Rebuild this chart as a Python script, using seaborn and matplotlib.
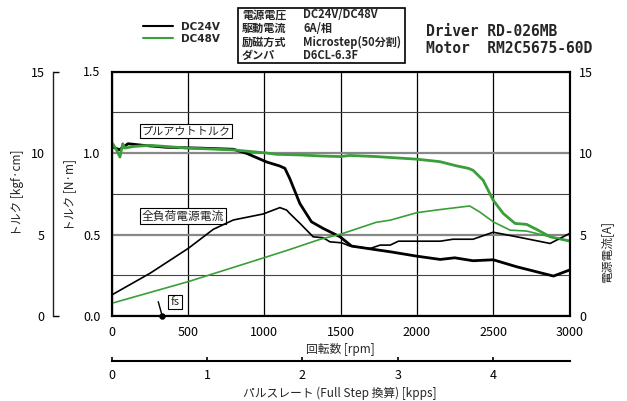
import matplotlib
matplotlib.use('Agg')
import matplotlib.pyplot as plt
from matplotlib.patches import Rectangle
from matplotlib.ticker import MultipleLocator
import seaborn as sns

# Pull-out torque [N·m] vs speed [rpm]
TORQUE_24_RPM = [0, 50, 107, 207, 360, 578, 797, 884, 1015, 1102, 1135, 1167, 1233, 1309,
                 1386, 1496, 1572, 1715, 1825, 2000, 2153, 2248, 2368, 2500, 2654, 2895, 3000]
TORQUE_24 = [1.04, 1.02, 1.057, 1.047, 1.035, 1.03, 1.023, 0.998, 0.945, 0.92, 0.906, 0.843, 0.69,
             0.578, 0.537, 0.486, 0.429, 0.409, 0.394, 0.367, 0.347, 0.357, 0.339, 0.345, 0.302,
             0.245, 0.282]

TORQUE_48_RPM = [0, 7, 33, 54, 72, 87, 142, 251, 502, 797, 1015, 1080, 1233, 1364, 1500, 1559,
                 1734, 2000, 2150, 2260, 2337, 2368, 2434, 2500, 2566, 2643, 2719, 2785, 2873, 3000]
TORQUE_48 = [1.04, 1.057, 1.016, 0.975, 1.057, 1.03, 1.04, 1.047, 1.03, 1.019, 1.0, 0.992, 0.988,
             0.982, 0.978, 0.985, 0.978, 0.962, 0.947, 0.921, 0.906, 0.894, 0.833, 0.71, 0.629,
             0.568, 0.562, 0.531, 0.486, 0.46]

# Full-load supply current [A]
CURRENT_24_RPM = [0, 251, 502, 666, 797, 993, 1102, 1146, 1167, 1233, 1320, 1386, 1430, 1507, 1561,
                  1693, 1759, 1825, 1879, 2153, 2237, 2368, 2500, 2654, 2873, 3000]
CURRENT_24 = [1.29, 2.62, 4.15, 5.32, 5.89, 6.26, 6.65, 6.5, 6.29, 5.69, 4.86, 4.8, 4.55, 4.49,
              4.29, 4.14, 4.35, 4.35, 4.59, 4.59, 4.71, 4.71, 5.14, 4.86, 4.45, 5.06]

CURRENT_48_RPM = [0, 502, 1000, 1167, 1364, 1500, 1734, 1825, 2000, 2153, 2346, 2412, 2500, 2610,
                  2719, 2829, 3000]
CURRENT_48 = [0.78, 2.11, 3.58, 4.08, 4.7, 5.02, 5.75, 5.88, 6.34, 6.53, 6.75, 6.38, 5.78, 5.27,
              5.21, 4.96, 4.6]

# start frequency marker
FS_RPM = [331]
FS_TORQUE = [0.0]

RPM_TICKS = [0, 500, 1000, 1500, 2000, 2500, 3000]
NM_TICKS = [0.0, 0.5, 1.0, 1.5]
KGF_TICKS = [0, 5, 10, 15]
AMP_TICKS = [0, 5, 10, 15]
KPPS_TICKS = [0, 1, 2, 3, 4]
RPM_PER_KPPS = 625

SPEC_KEYS = ['電源電圧', '駆動電流', '励磁方式', 'ダンパ']
SPEC_VALUES = ['DC24V/DC48V', '6A/相', 'Microstep(50分割)', 'D6CL-6.3F']

GREEN = '#3a9e3a'
W, H = 627, 401


def fx(x):
    return x / W


def fy(y):
    return 1 - y / H


sns.set_theme(style='white')
plt.rcParams['font.family'] = ['Noto Sans CJK JP', 'DejaVu Sans']

fig = plt.figure(figsize=(6.27, 4.01), dpi=100)
ax = fig.add_axes([fx(111.7), fy(316), (569.5 - 111.7) / W, (316 - 71.5) / H])

# main torque axis
ax.set_xlim(0, 3000)
ax.set_ylim(0, 1.5)
ax.set_xticks(RPM_TICKS)
ax.set_xticklabels([str(t) for t in RPM_TICKS])
ax.set_yticks(NM_TICKS)
ax.set_yticklabels([f'{t:.1f}' for t in NM_TICKS])
ax.yaxis.set_minor_locator(MultipleLocator(0.25))
ax.grid(axis='x', color='black', lw=0.9)
ax.grid(axis='y', which='major', color='#888888', lw=1.6)
ax.grid(axis='y', which='minor', color='#444444', lw=0.8)
ax.tick_params(axis='both', which='both', length=0, labelsize=9, colors='black')
ax.tick_params(axis='x', pad=7)
ax.tick_params(axis='y', pad=8)
for sp in ax.spines.values():
    sp.set_color('black')
    sp.set_linewidth(1.5)

sns.lineplot(x=TORQUE_24_RPM, y=TORQUE_24, ax=ax, color='black', lw=2.0, label='DC24V', legend=False)
sns.lineplot(x=TORQUE_48_RPM, y=TORQUE_48, ax=ax, color=GREEN, lw=2.0, label='DC48V', legend=False)

# fs marker
ax.plot([305, FS_RPM[0]], [0.088, FS_TORQUE[0]], color='black', lw=1.0, clip_on=False)
sns.scatterplot(x=FS_RPM, y=FS_TORQUE, ax=ax, color='black', s=18, edgecolor='black',
                clip_on=False, zorder=5, legend=False)
ax.text(415, 0.086, 'fs', ha='center', va='center', fontsize=8,
        bbox=dict(boxstyle='square,pad=0.2', fc='white', ec='black', lw=0.8))

ax.text(487, 1.135, 'プルアウトトルク', ha='center', va='center', fontsize=8,
        bbox=dict(boxstyle='square,pad=0.15', fc='white', ec='black', lw=0.8))
ax.text(467, 0.614, '全負荷電源電流', ha='center', va='center', fontsize=8.5,
        bbox=dict(boxstyle='square,pad=0.15', fc='white', ec='black', lw=0.8))

# right current axis
ax_r = ax.twinx()
ax_r.set_ylim(0, 15)
ax_r.set_yticks(AMP_TICKS)
ax_r.tick_params(axis='y', length=0, labelsize=9, pad=7, colors='black')
ax_r.grid(False)
for sp in ax_r.spines.values():
    sp.set_color('black')
    sp.set_linewidth(1.5)
sns.lineplot(x=CURRENT_24_RPM, y=CURRENT_24, ax=ax_r, color='black', lw=1.2, legend=False)
sns.lineplot(x=CURRENT_48_RPM, y=CURRENT_48, ax=ax_r, color=GREEN, lw=1.2, legend=False)

# outer left kgf·cm axis
ax_k = ax.twinx()
ax_k.set_ylim(0, 15)
ax_k.set_yticks(KGF_TICKS)
ax_k.yaxis.tick_left()
ax_k.spines['left'].set_position(('outward', (111.7 - 53) * 0.72))
ax_k.spines['left'].set_visible(True)
ax_k.spines['left'].set_linewidth(1.0)
ax_k.spines['left'].set_color('#222222')
for s in ['right', 'top', 'bottom']:
    ax_k.spines[s].set_visible(False)
ax_k.tick_params(axis='y', direction='in', length=4, width=1.0, labelsize=9, pad=6, colors='black')
ax_k.grid(False)
ax_k.patch.set_visible(False)
# only the end ticks are drawn on this axis
for t in ax_k.yaxis.get_major_ticks()[1:-1]:
    t.tick1line.set_visible(False)

# pulse rate axis
sec = ax.secondary_xaxis((316 - 361) / (316 - 71.5),
                         functions=(lambda r: r / RPM_PER_KPPS, lambda k: k * RPM_PER_KPPS))
sec.set_xticks(KPPS_TICKS)
sec.tick_params(direction='in', length=3, width=1.2, labelsize=9, pad=6, colors='black')
for sp in sec.spines.values():
    sp.set_linewidth(1.5)
    sp.set_color('black')

# axis titles
fig.text(fx(18), fy(193), 'トルク [kgf·cm]', rotation=90, ha='center', va='center', fontsize=8.5)
fig.text(fx(70), fy(195), 'トルク [N·m]', rotation=90, ha='center', va='center', fontsize=8.5)
fig.text(fx(607), fy(252), '電源電流[A]', rotation=90, ha='center', va='center', fontsize=8.5)
fig.text(fx(340), fy(349), '回転数 [rpm]', ha='center', va='center', fontsize=8.5)
fig.text(fx(340), fy(393), 'パルスレート (Full Step 換算) [kpps]', ha='center', va='center', fontsize=8.5)

# legend
h24, h48 = ax.get_lines()[0], ax.get_lines()[1]
leg = fig.legend(handles=[h24, h48], labels=['DC24V', 'DC48V'], loc='upper left',
                 bbox_to_anchor=(fx(143), fy(22)), frameon=False, handlelength=2.9,
                 handletextpad=0.7, labelspacing=0.2, borderpad=0, borderaxespad=0,
                 prop=dict(family='DejaVu Sans', weight='bold', size=7.5))
for line in leg.get_lines():
    line.set_linewidth(1.5)

# spec box
fig.add_artist(Rectangle((fx(238), fy(63)), (405 - 238) / W, (63 - 8) / H,
                         transform=fig.transFigure, fill=False, ec='black', lw=1.2))
for i, (k, v) in enumerate(zip(SPEC_KEYS, SPEC_VALUES)):
    y = 15 + i * 13.5
    fig.text(fx(242), fy(y), k, ha='left', va='center', fontsize=8, fontweight='bold')
    fig.text(fx(303), fy(y), v, ha='left', va='center', fontsize=8, fontweight='bold')

fig.text(fx(426), fy(31.7), 'Driver RD-026MB', family='DejaVu Sans Mono', fontweight='bold',
         fontsize=10.5, ha='left', va='center')
fig.text(fx(426), fy(48.3), 'Motor  RM2C5675-60D', family='DejaVu Sans Mono', fontweight='bold',
         fontsize=10.5, ha='left', va='center')

fig.savefig('out.png', dpi=100)
